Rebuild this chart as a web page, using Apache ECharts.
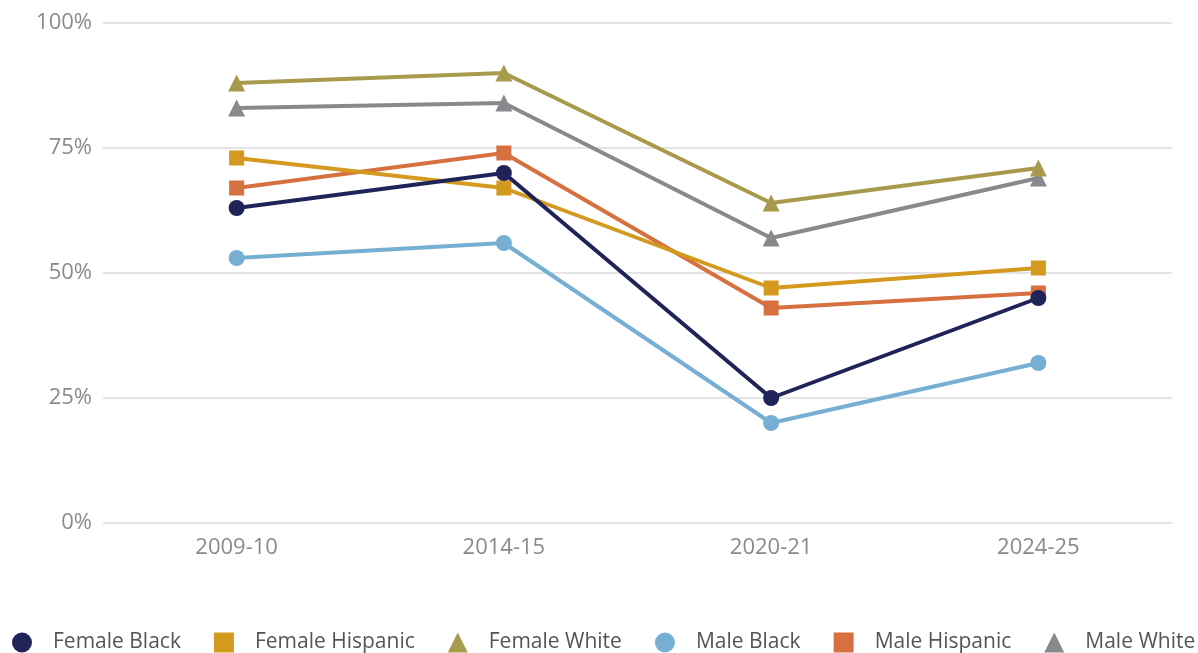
<!DOCTYPE html>
<html>
<head>
<meta charset="utf-8">
<script src="https://cdn.jsdelivr.net/npm/echarts@6/dist/echarts.min.js"></script>
<style>
  html, body { margin: 0; padding: 0; background: #ffffff; }
  #chart { width: 1198px; height: 653px; }
</style>
</head>
<body>
<div id="chart"></div>
<script>
// School years on the category axis
const years = ['2009-10', '2014-15', '2020-21', '2024-25'];
const yTicks = [0, 25, 50, 75, 100];

// Percentages per group
const femaleBlack = [63, 70, 25, 45];
const femaleHispanic = [73, 67, 47, 51];
const femaleWhite = [88, 90, 64, 71];
const maleBlack = [53, 56, 20, 32];
const maleHispanic = [67, 74, 43, 46];
const maleWhite = [83, 84, 57, 69];

const groups = [
  { name: 'Female Black', data: femaleBlack, color: '#1f2358', symbol: 'circle', size: 16 },
  { name: 'Female Hispanic', data: femaleHispanic, color: '#d4991f', symbol: 'rect', size: 15 },
  { name: 'Female White', data: femaleWhite, color: '#a89a4c', symbol: 'triangle', size: 17 },
  { name: 'Male Black', data: maleBlack, color: '#76afd3', symbol: 'circle', size: 16 },
  { name: 'Male Hispanic', data: maleHispanic, color: '#d7703f', symbol: 'rect', size: 15 },
  { name: 'Male White', data: maleWhite, color: '#88898c', symbol: 'triangle', size: 17 }
];

const FONT = '"Open Sans", "Noto Sans", sans-serif';

const chart = echarts.init(document.getElementById('chart'), null, { renderer: 'canvas' });

// Earlier groups are drawn on top of later ones
const series = groups.map((g, i) => ({
  name: g.name,
  type: 'line',
  data: g.data,
  symbol: g.symbol,
  symbolSize: g.size,
  z: 10 + (groups.length - i),
  lineStyle: { color: g.color, width: 4 },
  itemStyle: { color: g.color },
  emphasis: { disabled: true },
  animation: false
}));

chart.setOption({
  backgroundColor: '#ffffff',
  animation: false,
  grid: { left: 103, right: 26, top: 23, bottom: 130 },
  legend: {
    data: groups.map(g => ({ name: g.name, icon: g.symbol })),
    left: 7,
    bottom: -5,
    width: 1400,
    itemWidth: 20,
    itemHeight: 20,
    itemGap: 33,
    textStyle: {
      fontFamily: FONT,
      fontSize: 21,
      color: '#555555',
      padding: [0, 0, 0, 16]
    }
  },
  xAxis: {
    type: 'category',
    data: years,
    boundaryGap: true,
    axisLine: { show: false },
    axisTick: { show: false },
    axisLabel: {
      margin: 14,
      fontFamily: FONT,
      fontSize: 22,
      color: '#8a8a8a'
    }
  },
  yAxis: {
    type: 'value',
    min: yTicks[0],
    max: yTicks[yTicks.length - 1],
    interval: 25,
    axisLine: { show: false },
    axisTick: { show: false },
    splitLine: { lineStyle: { color: '#e4e4e6', width: 2 } },
    axisLabel: {
      margin: 11,
      fontFamily: FONT,
      fontSize: 22,
      color: '#8a8a8a',
      formatter: v => v + '%'
    }
  },
  series: series
});
</script>
</body>
</html>
